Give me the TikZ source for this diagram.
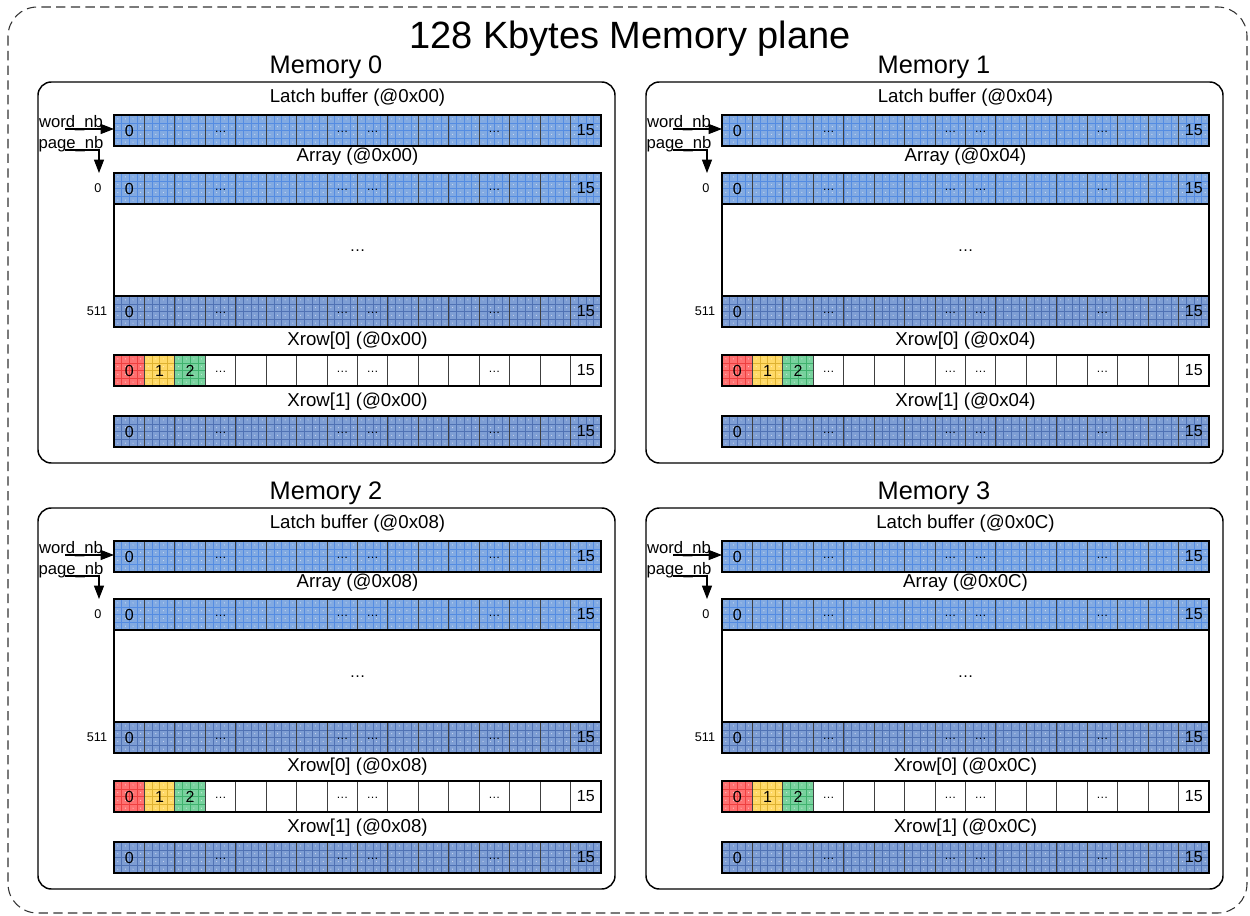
\documentclass[tikz,border=0pt]{standalone}
\usepackage{fontspec}
\setmainfont{Liberation Sans}
\usetikzlibrary{calc,arrows.meta}

\definecolor{blueA}{RGB}{130,170,226}
\definecolor{blueAl}{RGB}{84,140,226}
\definecolor{blueB}{RGB}{126,158,212}
\definecolor{blueBl}{RGB}{80,114,180}
\definecolor{redA}{RGB}{255,112,112}
\definecolor{redAl}{RGB}{238,64,64}
\definecolor{yelA}{RGB}{255,217,102}
\definecolor{yelAl}{RGB}{222,178,50}
\definecolor{grnA}{RGB}{120,210,158}
\definecolor{grnAl}{RGB}{64,178,110}

\newcommand\cellfill[5]{%
  \fill[#4] (#1,#2) rectangle ++({#3*30.4375},31);
  \pgfmathtruncatemacro\nsub{#3*4-1}
  \foreach \j in {1,...,\nsub}
    \draw[#5, line width=0.3pt] ({#1+\j*7.609},#2) -- ++(0,31);
  \foreach \k in {1,2,3}
    \draw[#5, line width=0.3pt] (#1,{#2+\k*7.75}) -- ++({#3*30.4375},0);
  \foreach \j in {0,...,\nsub} \foreach \k in {0,...,3}
    \fill[white, opacity=0.6] ({#1+\j*7.609+3.8},{#2+\k*7.75+3.9}) circle (0.6);
}
\newcommand\rowframe[2]{%
  \foreach \i in {1,...,15}
    \draw[celldiv] ({114+\i*30.4375},#2) -- ++(0,31);
  \node[rowbox] (#1) at (357.5,{#2+15.5}) {};
}
\newcommand\celltext[2]{%
  \node[celltxt] (#1-0) at ({114+0.5*30.4375},{#2+15.5}) {0};
  \foreach \i in {3,7,8,12}
    \node[dotstxt] (#1-\i) at ({114+(\i+0.5)*30.4375},{#2+17}) {\ldots};
  \node[celltxt] (#1-15) at ({114+15.5*30.4375},{#2+15.5}) {15};
}

\begin{document}
\begin{tikzpicture}[x=0.75pt,y=-0.75pt,
  rowbox/.style={draw=black, line width=0.9pt, minimum width=365.25pt, minimum height=23.25pt, inner sep=0pt, outer sep=0pt},
  membox/.style={draw=black, line width=1.1pt, rounded corners=10pt},
  celldiv/.style={black!75, line width=0.8pt},
  celltxt/.style={font=\fontsize{12}{13}\selectfont, inner sep=0pt},
  dotstxt/.style={font=\fontsize{9}{10}\selectfont, inner sep=0pt},
  rowlabel/.style={font=\fontsize{14}{16}\selectfont, inner sep=0pt},
  memtitle/.style={font=\fontsize{19}{22}\selectfont, inner sep=0pt},
  idxtxt/.style={font=\fontsize{9.5}{10}\selectfont, inner sep=0pt},
  sigtxt/.style={font=\fontsize{12.5}{14}\selectfont, inner sep=0pt},
  sigarrow/.style={-{Triangle[length=10pt,width=7.5pt]}, line width=0.8pt}]

\useasboundingbox (0,0) rectangle (1250,916);
\draw[black!80, dash pattern=on 7pt off 4pt, line width=0.8pt, rounded corners=22pt] (8,7) rectangle (1247,913);
\node[font=\fontsize{28.5}{32}\selectfont, inner sep=0pt] (plane) at (630,39) {128 Kbytes Memory plane};

\foreach \ox/\oy/\n/\ad in {0/0/0/00,608/0/1/04,0/426/2/08,608/426/3/0C}{
\begin{scope}[shift={(\ox,\oy)}]
  \draw[membox] (38,82) rectangle (615,463);
  \node[memtitle] (mem\n) at (326,67) {Memory \n};

  \node[rowlabel] (latchlbl\n) at (357.5,98) {Latch buffer (@0x\ad)};
  \cellfill{114}{115}{16}{blueA}{blueAl}
  \rowframe{latch\n}{115}
  \celltext{latch\n}{115}

  \node[rowlabel] (arraylbl\n) at (357.5,157) {Array (@0x\ad)};
  \node[draw=black, line width=0.9pt, minimum width=365.25pt, minimum height=115.5pt, inner sep=0pt, outer sep=0pt] (array\n) at (357.5,250) {};
  \node[celltxt] (arraydots\n) at (357.5,251) {\ldots};
  \cellfill{114}{173}{16}{blueA}{blueAl}
  \rowframe{first\n}{173}
  \celltext{first\n}{173}
  \cellfill{114}{296}{16}{blueB}{blueBl}
  \rowframe{last\n}{296}
  \celltext{last\n}{296}
  \node[idxtxt] (firstidx\n) at (98,188) {0};
  \node[idxtxt] (lastidx\n) at (97,311) {511};

  \node[rowlabel] (xrowalbl\n) at (357.5,341) {Xrow[0] (@0x\ad)};
  \cellfill{114}{355}{1}{redA}{redAl}
  \cellfill{144.4375}{355}{1}{yelA}{yelAl}
  \cellfill{174.875}{355}{1}{grnA}{grnAl}
  \rowframe{xrowa\n}{355}
  \celltext{xrowa\n}{355}
  \node[celltxt] (xrowa\n-1) at ({114+1.5*30.4375},370.5) {1};
  \node[celltxt] (xrowa\n-2) at ({114+2.5*30.4375},370.5) {2};

  \node[rowlabel] (xrowblbl\n) at (357.5,402) {Xrow[1] (@0x\ad)};
  \cellfill{114}{416}{16}{blueB}{blueBl}
  \rowframe{xrowb\n}{416}
  \celltext{xrowb\n}{416}

  \node[sigtxt] (word\n) at (71,123) {word\_nb};
  \node[sigtxt] (page\n) at (71,144) {page\_nb};
  \coordinate (ws\n) at (65,129);
  \coordinate (ps\n) at (65,150);
  \coordinate (pc\n) at (99,150);
  \draw[sigarrow] (ws\n) -- (ws\n -| latch\n.west);
  \draw[sigarrow] (ps\n) -- (pc\n) -- (pc\n |- array\n.north);
\end{scope}}
\end{tikzpicture}
\end{document}
